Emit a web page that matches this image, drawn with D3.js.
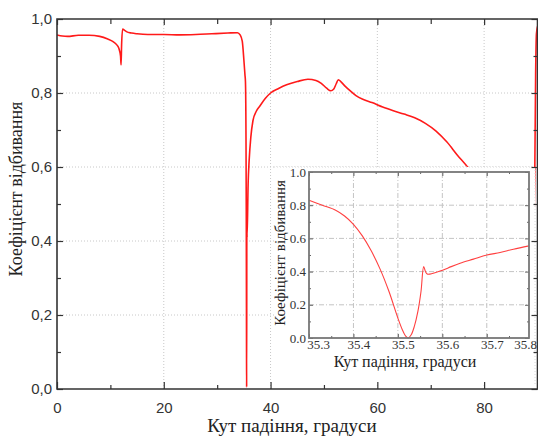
<!DOCTYPE html>
<html>
<head>
<meta charset="utf-8">
<script src="https://cdn.jsdelivr.net/npm/d3@7"></script>
<style>
  body { margin: 0; background: #fff; }
  svg { display: block; }
  .main-tick text { font-family: "Liberation Sans", Arial, sans-serif; font-size: 15px; fill: #333; }
  .inset-tick text { font-family: "Liberation Serif", "Times New Roman", serif; font-size: 13px; fill: #333; }
  .domain { display: none; }
</style>
</head>
<body>
<div id="chart"></div>
<script>
// main curve: angle of incidence (deg) vs reflectance
var angles = [0, 1, 2, 4, 6, 8, 9.5, 10.5, 11.2, 11.6, 11.9, 12.0, 12.1, 12.3, 12.6, 13, 14, 15, 17, 20, 23, 26, 29, 32, 33.8,
  34.3, 34.7, 35.0, 35.2, 35.3, 35.4, 35.45, 35.5, 35.52, 35.56, 35.6, 35.8, 36.0, 36.3, 36.7, 37.3, 38, 39, 40, 41.5, 43, 45,
  47, 48.5, 49.5, 50.5, 51.3, 51.8, 52.3, 52.7, 53.2, 54, 55, 56, 57.5, 59, 61, 63, 65, 67, 69, 71, 73, 75, 77,
  80, 83, 86, 88, 89, 89.5, 89.65, 89.8, 90];
var reflect = [0.957, 0.954, 0.953, 0.956, 0.956, 0.953, 0.946, 0.939, 0.930, 0.920, 0.900, 0.876, 0.930, 0.973, 0.970, 0.966, 0.962, 0.960, 0.958, 0.958, 0.957, 0.958, 0.960, 0.962, 0.963,
  0.957, 0.940, 0.890, 0.850, 0.830, 0.680, 0.480, 0.100, 0.005, 0.430, 0.410, 0.555, 0.620, 0.680, 0.725, 0.750, 0.765, 0.785, 0.800, 0.812, 0.822, 0.831,
  0.837, 0.834, 0.826, 0.813, 0.806, 0.810, 0.825, 0.836, 0.830, 0.818, 0.805, 0.793, 0.782, 0.774, 0.762, 0.752, 0.743, 0.733, 0.718, 0.697, 0.668, 0.632, 0.598,
  0.520, 0.420, 0.300, 0.220, 0.300, 0.600, 0.850, 0.960, 0.980];

// inset: zoom around the resonance dip
var insetAngles = [35.300, 35.330, 35.360, 35.380, 35.400, 35.420, 35.440, 35.460, 35.480, 35.500, 35.510, 35.518, 35.523,
  35.530, 35.537, 35.545, 35.552, 35.558, 35.562, 35.566, 35.572, 35.585, 35.602, 35.620, 35.640, 35.670, 35.700, 35.730, 35.760, 35.795];
var insetReflect = [0.83, 0.80, 0.77, 0.735, 0.685, 0.615, 0.525, 0.415, 0.28, 0.12, 0.05, 0.01, 0.0,
  0.02, 0.07, 0.16, 0.28, 0.43, 0.40, 0.385, 0.385, 0.395, 0.41, 0.43, 0.45, 0.475, 0.50, 0.515, 0.535, 0.555];

var xMajor = [0, 20, 40, 60, 80];
var xMinor = [10, 30, 50, 70, 90];
var yMajor = [0, 0.2, 0.4, 0.6, 0.8, 1.0];
var yMinor = [0.1, 0.3, 0.5, 0.7, 0.9];
var insetXMajor = [35.3, 35.4, 35.5, 35.6, 35.7, 35.8];
var insetYMajor = [0, 0.2, 0.4, 0.6, 0.8, 1.0];

var xTitle = "Кут падіння, градуси";
var yTitle = "Коефіцієнт відбивання";

var w = 538, h = 436;
var svg = d3.select("#chart").append("svg").attr("width", w).attr("height", h);

var x = d3.scaleLinear().domain([0, 90]).range([57, 537.5]);
var y = d3.scaleLinear().domain([0, 1]).range([389, 19]);

// grid
svg.append("g").selectAll("line").data(xMajor.slice(1)).enter().append("line")
  .attr("x1", function(d) { return x(d); }).attr("x2", function(d) { return x(d); })
  .attr("y1", y(0)).attr("y2", y(1))
  .attr("stroke", "#c8c8c8").attr("stroke-dasharray", "1,2");
svg.append("g").selectAll("line").data(yMajor.slice(1, 5)).enter().append("line")
  .attr("y1", function(d) { return y(d); }).attr("y2", function(d) { return y(d); })
  .attr("x1", x(0)).attr("x2", x(90))
  .attr("stroke", "#c8c8c8").attr("stroke-dasharray", "1,2");

svg.append("clipPath").attr("id", "clipMain").append("rect")
  .attr("x", x(0)).attr("y", y(1)).attr("width", x(90) - x(0)).attr("height", y(0) - y(1));

var line = d3.line()
  .x(function(d, i) { return x(angles[i]); })
  .y(function(d) { return y(d); })
  .curve(d3.curveMonotoneX);

svg.append("path").datum(reflect)
  .attr("clip-path", "url(#clipMain)")
  .attr("d", line)
  .attr("fill", "none").attr("stroke", "#ff1a1a").attr("stroke-width", 1.6);

// pasted inset picture background
svg.append("rect").attr("x", 274).attr("y", 167).attr("width", 261).attr("height", 218)
  .attr("fill", "#fff");
svg.append("path").attr("d", "M274,167H535V385")
  .attr("fill", "none").attr("stroke", "#d8d8d8").attr("stroke-dasharray", "1,2");

// main axes
function mainAxis(axis, tr, cls) {
  return svg.append("g").attr("class", cls || "main-tick").attr("transform", tr).call(axis)
    .call(function(g) { g.selectAll(".tick line").attr("stroke", "#333").attr("stroke-width", 1.2); });
}
mainAxis(d3.axisBottom(x).tickValues(xMajor).tickSize(-7).tickPadding(13).tickFormat(d3.format("d")), "translate(0," + y(0) + ")");
mainAxis(d3.axisBottom(x).tickValues(xMinor).tickSize(-4).tickFormat(""), "translate(0," + y(0) + ")");
mainAxis(d3.axisTop(x).tickValues(xMajor).tickSize(-6).tickFormat(""), "translate(0," + y(1) + ")");
mainAxis(d3.axisTop(x).tickValues(xMinor).tickSize(-5).tickFormat(""), "translate(0," + y(1) + ")");
mainAxis(d3.axisLeft(y).tickValues(yMajor).tickSize(-6).tickPadding(5)
  .tickFormat(function(d) { return d3.format(".1f")(d).replace(".", ","); }), "translate(" + x(0) + ",0)");
mainAxis(d3.axisLeft(y).tickValues(yMinor).tickSize(-4).tickFormat(""), "translate(" + x(0) + ",0)");
mainAxis(d3.axisRight(y).tickValues(yMajor).tickSize(-6).tickFormat(""), "translate(" + x(90) + ",0)");
mainAxis(d3.axisRight(y).tickValues(yMinor).tickSize(-4).tickFormat(""), "translate(" + x(90) + ",0)");

svg.append("path")
  .attr("d", "M" + x(0) + "," + y(1) + "H" + x(90) + "V" + y(0) + "H" + x(0) + "Z")
  .attr("fill", "none").attr("stroke", "#333").attr("stroke-width", 1.6);

svg.append("text").attr("x", 292).attr("y", 432).attr("text-anchor", "middle")
  .attr("font-family", "Liberation Serif, Times New Roman, serif").attr("font-size", 19).attr("fill", "#222")
  .text(xTitle);
svg.append("text").attr("transform", "translate(22,189) rotate(-90)").attr("text-anchor", "middle")
  .attr("font-family", "Liberation Serif, Times New Roman, serif").attr("font-size", 18).attr("fill", "#222")
  .text(yTitle);

// inset chart
var ix = d3.scaleLinear().domain([35.3, 35.795]).range([309, 529]);
var iy = d3.scaleLinear().domain([0, 1]).range([338, 172]);

svg.append("g").selectAll("line").data(insetXMajor.slice(1, 5)).enter().append("line")
  .attr("x1", function(d) { return ix(d); }).attr("x2", function(d) { return ix(d); })
  .attr("y1", iy(0)).attr("y2", iy(1))
  .attr("stroke", "#c4c4c4").attr("stroke-dasharray", "5,2,1,2");
svg.append("g").selectAll("line").data(insetYMajor.slice(1, 5)).enter().append("line")
  .attr("y1", function(d) { return iy(d); }).attr("y2", function(d) { return iy(d); })
  .attr("x1", ix(35.3)).attr("x2", ix(35.795))
  .attr("stroke", "#c4c4c4").attr("stroke-dasharray", "5,2,1,2");

var iline = d3.line()
  .x(function(d, i) { return ix(insetAngles[i]); })
  .y(function(d) { return iy(d); })
  .curve(d3.curveCatmullRom.alpha(0.5));
svg.append("path").datum(insetReflect).attr("d", iline)
  .attr("fill", "none").attr("stroke", "#ff4040").attr("stroke-width", 1.1);

function insetAxis(axis, tr) {
  return svg.append("g").attr("class", "inset-tick").attr("transform", tr).call(axis)
    .call(function(g) { g.selectAll(".tick line").attr("stroke", "#666"); });
}
var ixMinor = d3.range(35.35, 35.8, 0.1);
var iyMinor = [0.1, 0.3, 0.5, 0.7, 0.9];
var bx = insetAxis(d3.axisBottom(ix).tickValues(insetXMajor.slice(0, 5)).tickSize(-4).tickPadding(2).tickFormat(d3.format(".1f")), "translate(0," + iy(0) + ")");
bx.selectAll(".tick text").attr("dx", function(d, i) { return i === 0 ? 9 : 5; });
svg.append("text").attr("x", 537).attr("y", 349).attr("text-anchor", "end")
  .attr("font-family", "Liberation Serif, Times New Roman, serif").attr("font-size", 13).attr("fill", "#333")
  .text(d3.format(".1f")(insetXMajor[5]));
insetAxis(d3.axisBottom(ix).tickValues(ixMinor).tickSize(-2).tickFormat(""), "translate(0," + iy(0) + ")");
insetAxis(d3.axisTop(ix).tickValues(insetXMajor.slice(0, 5)).tickSize(-4).tickFormat(""), "translate(0," + iy(1) + ")");
insetAxis(d3.axisTop(ix).tickValues(ixMinor).tickSize(-2).tickFormat(""), "translate(0," + iy(1) + ")");
insetAxis(d3.axisLeft(iy).tickValues(insetYMajor).tickSize(-4).tickPadding(3).tickFormat(d3.format(".1f")), "translate(" + ix(35.3) + ",0)");
insetAxis(d3.axisLeft(iy).tickValues(iyMinor).tickSize(-2).tickFormat(""), "translate(" + ix(35.3) + ",0)");
insetAxis(d3.axisRight(iy).tickValues(insetYMajor).tickSize(-4).tickFormat(""), "translate(" + ix(35.795) + ",0)");
insetAxis(d3.axisRight(iy).tickValues(iyMinor).tickSize(-2).tickFormat(""), "translate(" + ix(35.795) + ",0)");

svg.append("rect").attr("x", ix(35.3)).attr("y", iy(1))
  .attr("width", ix(35.795) - ix(35.3)).attr("height", iy(0) - iy(1))
  .attr("fill", "none").attr("stroke", "#777").attr("stroke-width", 1.8);

svg.append("text").attr("x", 405).attr("y", 367).attr("text-anchor", "middle")
  .attr("font-family", "Liberation Serif, Times New Roman, serif").attr("font-size", 16).attr("fill", "#222")
  .text(xTitle);
svg.append("text").attr("transform", "translate(285,253) rotate(-90)").attr("text-anchor", "middle")
  .attr("font-family", "Liberation Serif, Times New Roman, serif").attr("font-size", 15).attr("fill", "#222")
  .text(yTitle);
</script>
</body>
</html>
